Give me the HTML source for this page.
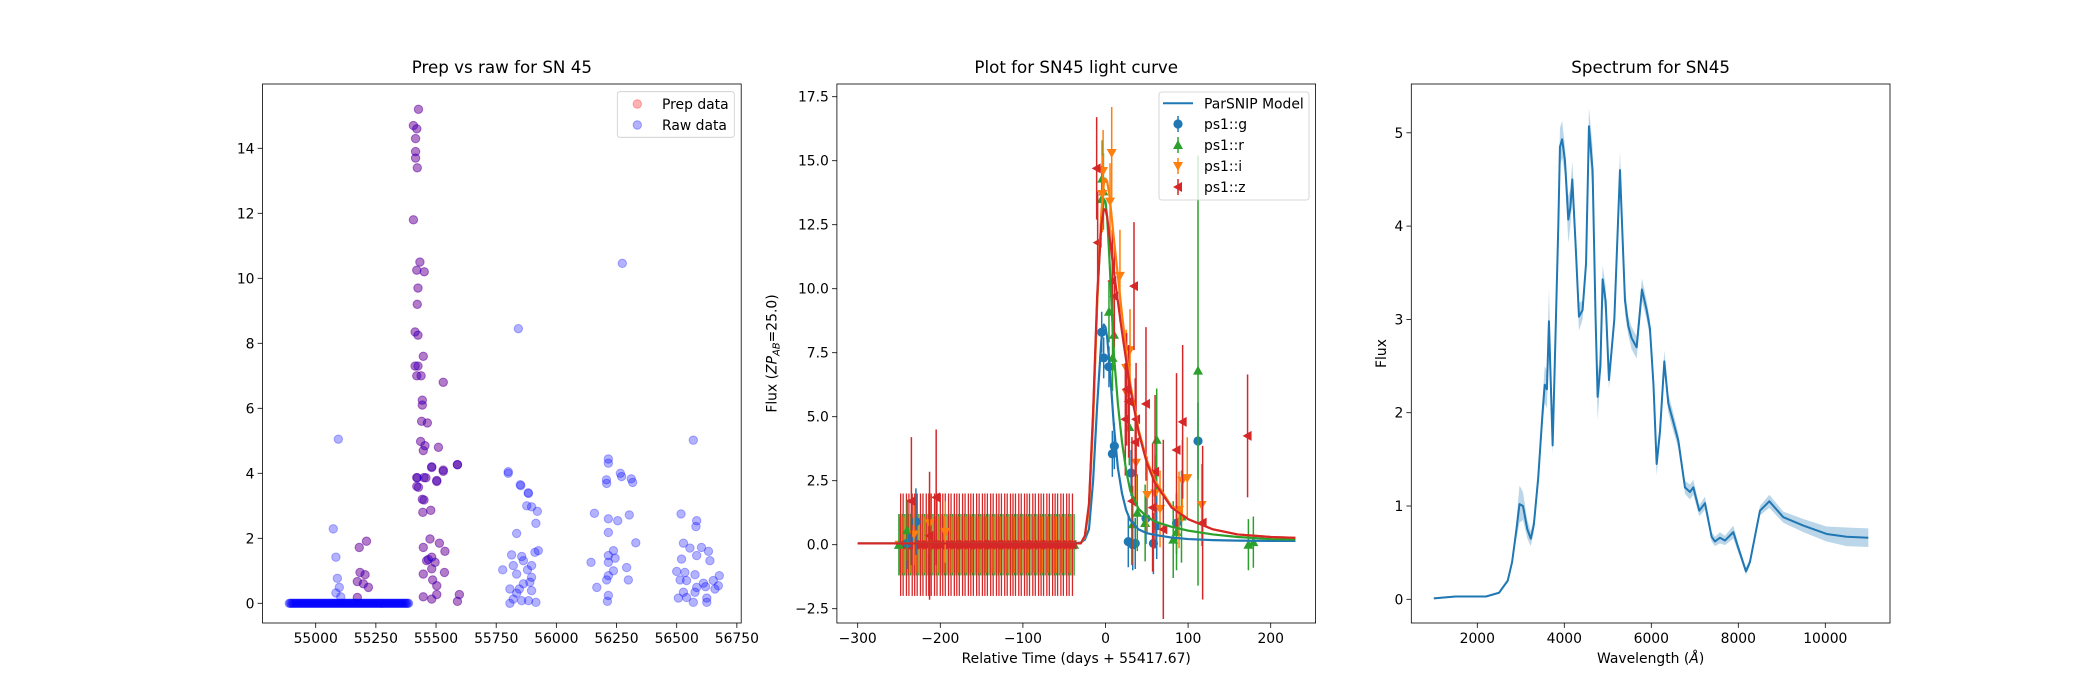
<!DOCTYPE html>
<html><head><meta charset="utf-8"><title>SN45</title>
<style>
html,body{margin:0;padding:0;background:#fff;}
svg{display:block;font-family:"DejaVu Sans","Liberation Sans",sans-serif;}
</style></head>
<body>
<svg id="fig" width="2100" height="700" viewBox="0 0 2100 700" xmlns="http://www.w3.org/2000/svg">
<rect x="0" y="0" width="2100" height="700" fill="#fff"/>
</svg>
<script>
// ---------- Panel 1 data ----------
const prepDates=[55427,55406,55420,55415,55415,55415,55422,55406,55433,55420,55451,55425,55422,55413,55425,55447,55413,55425,55420,55438,55530,55443,55443,55440,55464,55436,55454,55447,55510,55589,55482,55530,55420,55450,55503,55420,55443,
55181,55211,55184,55205,55173,55198,55219,55173,
55427,55450,55445,55478,55447,55475,55514,55537,55461,55496,55482,55447,55535,55486,55503,55503,55447,55482,55589,55597,55482,55468,55589,55530,55503,55482,55422,55458];
const prepFlux=[15.2,14.7,14.6,14.3,13.9,13.7,13.4,11.8,10.5,10.25,10.2,9.7,9.2,8.35,8.25,7.6,7.3,7.3,7.0,7.0,6.8,6.25,6.1,5.6,5.55,4.98,4.85,4.7,4.8,4.27,4.2,4.1,3.87,3.87,3.78,3.6,3.2,
1.72,1.91,0.95,0.88,0.67,0.6,0.49,0.18,
3.57,3.18,2.8,2.86,1.72,1.98,1.85,1.6,1.31,1.26,1.06,0.9,0.95,0.72,0.54,0.27,0.2,0.13,0.06,0.27,1.42,1.35,4.26,4.06,3.75,4.18,3.86,3.86];
const rawOnlyDates=[55094,55842,55800,55850,55883,56274,56569,56216,56208,56266,56311,
55073,55084,55090,55098,55084,55104,
55800,55852,55884,55877,55897,55921,55915,55835,55814,55856,55911,55925,55821,55863,55897,55777,55835,55880,55897,55863,55890,55807,55846,55897,55821,55856,55884,55915,55807,55835,
56216,56209,56271,56317,56158,56216,56255,56303,56216,56330,56216,56237,56244,56144,56216,56292,56237,56216,56299,56209,56168,56216,56212,
56518,56583,56580,56528,56555,56603,56632,56583,56638,56520,56500,56534,56576,56677,56514,56541,56611,56652,56583,56620,56673,56528,56507,56541,56576,56625,56569,56625,56659];
const rawOnlyFlux=[5.05,8.45,4.05,3.65,3.4,10.46,5.02,4.44,3.8,4.0,3.83,
2.29,1.42,0.77,0.49,0.32,0.2,
4.0,3.62,3.38,3.0,2.97,2.83,2.46,2.15,1.49,1.44,1.57,1.62,1.16,1.31,1.16,1.03,0.9,1.03,0.8,0.6,0.65,0.44,0.44,0.39,0.13,0.08,0.08,0.03,0.0,0.31,
4.31,3.69,3.9,3.72,2.77,2.6,2.54,2.72,2.18,1.86,1.47,1.62,1.39,1.26,1.26,1.1,1.0,0.85,0.72,0.72,0.49,0.24,0.06,
2.75,2.54,2.36,1.85,1.7,1.72,1.6,1.47,1.31,1.36,0.98,0.95,0.88,0.85,0.72,0.7,0.62,0.7,0.49,0.51,0.54,0.34,0.16,0.18,0.34,0.16,0.03,0.03,0.44];
const baseDates=[54890,54894,54898,54902,54906,54910,54914,54918,54922,54926,
54930,54934,54938,54942,54946,54950,54954,54958,54962,54966,
54970,54974,54978,54982,54986,54990,54994,54998,55002,55006,
55010,55014,55018,55022,55026,55030,55034,55038,55042,55046,
55050,55054,55058,55062,55066,55070,55074,55078,55082,55086,
55090,55094,55098,55102,55106,55110,55114,55118,55122,55126,
55130,55134,55138,55142,55146,55150,55154,55158,55162,55166,
55170,55174,55178,55182,55186,55190,55194,55198,55202,55206,
55210,55214,55218,55222,55226,55230,55234,55238,55242,55246,
55250,55254,55258,55262,55266,55270,55274,55278,55282,55286,
55290,55294,55298,55302,55306,55310,55314,55318,55322,55326,
55330,55334,55338,55342,55346,55350,55354,55358,55362,55366,
55370,55374,55378,55382,55386];
const baseFlux1=[0,0,0,0,0,0,0,0,0,0, 0,0,0,0,0,0,0,0,0,0, 0,0,0,0,0,0,0,0,0,0, 0,0,0,0,0,0,0,0,0,0,
0,0,0,0,0,0,0,0,0,0, 0,0,0,0,0,0,0,0,0,0, 0,0,0,0,0,0,0,0,0,0, 0,0,0,0,0,0,0,0,0,0,
0,0,0,0,0,0,0,0,0,0, 0,0,0,0,0,0,0,0,0,0, 0,0,0,0,0,0,0,0,0,0, 0,0,0,0,0,0,0,0,0,0, 0,0,0,0,0];
const ticks1X=[55000,55250,55500,55750,56000,56250,56500,56750];
const ticks1Y=[0,2,4,6,8,10,12,14];

// ---------- Panel 2 data ----------
const modelT=[-300,-40,-30,-25,-20,-15,-10,-5,-2,0,2,5,10,15,20,25,30,40,50,60,80,100,130,160,200,230];
const modelG=[0.05,0.05,0.08,0.2,0.6,2.5,5.5,8.0,8.6,8.5,8.1,7.0,4.7,3.0,2.0,1.35,0.95,0.6,0.45,0.38,0.28,0.22,0.18,0.16,0.15,0.15];
const modelR=[0.05,0.05,0.05,0.3,1.5,5.0,9.5,12.8,13.5,13.4,12.8,11.0,7.5,5.5,4.0,2.9,2.1,1.4,1.1,0.9,0.7,0.55,0.4,0.3,0.22,0.2];
const modelI=[0.05,0.05,0.05,0.3,1.4,4.8,9.5,13.0,14.1,14.3,14.2,13.6,12.0,10.5,9.0,7.6,6.3,4.5,3.3,2.5,1.5,1.0,0.6,0.4,0.3,0.27];
const modelZ=[0.05,0.05,0.05,0.35,1.6,5.2,9.8,12.5,13.1,13.1,12.8,12.0,10.7,9.5,8.3,7.2,6.1,4.4,3.2,2.4,1.45,1.0,0.6,0.4,0.3,0.27];
const baseTimesZ=[-248,-245,-241,-238,-234,-231,-228,-224,-221,-217,-214,-211,-207,-204,-200,-197,-194,-190,-187,-183,-180,-177,-173,-170,-166,-163,-160,-156,-153,-149,-146,-143,-139,-136,-132,-129,-126,-122,-119,-115,-112,-109,-105,-102,-98,-95,-92,-88,-85,-81,-78,-75,-71,-68,-64,-61,-58,-54,-51,-47,-44,-40];
const baseTimesR=[-250,-246,-243,-239,-236,-232,-229,-226,-222,-219,-215,-212,-209,-205,-202,-198,-195,-192,-188,-185,-181,-178,-175,-171,-168,-164,-161,-158,-154,-151,-147,-144,-141,-137,-134,-130,-127,-124,-120,-117,-113,-110,-107,-103,-100,-96,-93,-90,-86,-83,-79,-76,-73,-69,-66,-62,-59,-56,-52,-49,-45,-42,-38];
const baseTimesI=[-249.5,-246.5,-242.5,-239.5,-235.5,-232.5,-229.5,-225.5,-222.5,-218.5,-215.5,-212.5,-208.5,-205.5,-201.5,-198.5,-195.5,-191.5,-188.5,-184.5,-181.5,-178.5,-174.5,-171.5,-167.5,-164.5,-161.5,-157.5,-154.5,-150.5,-147.5,-144.5,-140.5,-137.5,-133.5,-130.5,-127.5,-123.5,-120.5,-116.5,-113.5,-110.5,-106.5,-103.5,-99.5,-96.5,-93.5,-89.5,-86.5,-82.5,-79.5,-76.5,-72.5,-69.5,-65.5,-62.5,-59.5,-55.5,-52.5,-48.5,-45.5,-41.5];
const baseFluxZ=[0,0,0,0,0,0,0,0,0,0,0,0,0,0,0,0,0,0,0,0,0,0,0,0,0,0,0,0,0,0,0,0,0,0,0,0,0,0,0,0,0,0,0,0,0,0,0,0,0,0,0,0,0,0,0,0,0,0,0,0,0,0];
const baseFluxR=[0,0,0,0,0,0,0,0,0,0,0,0,0,0,0,0,0,0,0,0,0,0,0,0,0,0,0,0,0,0,0,0,0,0,0,0,0,0,0,0,0,0,0,0,0,0,0,0,0,0,0,0,0,0,0,0,0,0,0,0,0,0,0];
const baseFluxI=[0,0,0,0,0,0,0,0,0,0,0,0,0,0,0,0,0,0,0,0,0,0,0,0,0,0,0,0,0,0,0,0,0,0,0,0,0,0,0,0,0,0,0,0,0,0,0,0,0,0,0,0,0,0,0,0,0,0,0,0,0,0];
const baseErrR=[1.2];
const baseErrI=[1.1];
const baseErrZ=[2.0];
const gT=[-229.5,-240,-235,-4.6,-2.2,4.2,8.3,10.7,31,27.6,33,36,49,58,62,86,112];
const gF=[0.9,0.05,0.3,8.3,7.3,6.95,3.55,3.85,2.8,0.12,0.0,0.05,1.03,0.05,0.74,0.84,4.05];
const gE=[1.3,1.0,1.0,0.8,0.8,0.8,0.9,0.9,0.9,1.0,1.0,1.0,1.0,1.2,1.3,1.2,1.5];
const rT=[-250,-240,-4,-2.5,-4.6,4.2,10.3,8.5,28.8,62,112,38.5,33,48,82,92,86,173,179];
const rF=[0,0.57,14.3,13.8,13.5,9.1,8.2,7.3,4.6,4.1,6.8,1.25,0.8,0.85,0.2,1.1,0.5,0.0,0.1];
const rE=[1.2,1.2,1.5,1.5,1.3,1.2,1.4,1.3,1.5,2.0,8.4,1.5,1.5,1.5,1.5,1.8,1.5,1.0,1.0];
const iT=[7.5,-2.9,-3.7,5.5,17.5,29.7,25,26,37,50.6,60,66,89,93,99,116.4,-213,-194,-232];
const iF=[15.3,14.6,13.7,13.4,10.5,7.6,6.9,5.9,3.2,1.94,2.0,1.4,1.36,2.5,2.6,1.55,0.84,0.5,0.4];
const iE=[1.8,1.6,1.5,1.5,1.8,1.6,1.5,1.5,1.5,1.5,1.5,1.5,1.5,1.6,1.6,1.6,1.2,1.2,1.2];
const zT=[-10.7,-9.5,8.2,34.5,10.7,25.6,28,49,24,37,93.4,86,172,36,60,70,57,117.6,32,-205,-235,-213];
const zF=[14.7,11.8,10.3,10.1,9.7,6.07,5.6,5.5,4.9,4.9,4.8,3.7,4.25,4.0,2.85,0.6,1.45,0.86,1.7,1.85,1.7,0.35];
const zE=[2.0,2.0,2.0,2.5,2.0,2.2,2.2,3.0,2.2,2.2,3.0,3.0,2.4,2.5,3.0,3.5,2.5,3.0,2.5,2.65,2.5,2.5];
const ticks2X=[-300,-200,-100,0,100,200];
const ticks2Y=[-2.5,0,2.5,5,7.5,10,12.5,15,17.5];

// ---------- Panel 3 data ----------
const specWl=[1000,1500,2000,2200,2500,2700,2800,2900,2970,3050,3150,3230,3300,3400,3500,3550,3600,3647,3732,3780,3862,3900,3950,4015,4092,4140,4184,4260,4337,4420,4500,4567,4650,4720,4766,4830,4881,4950,5027,5150,5280,5395,5471,5548,5663,5785,5893,5969,6050,6123,6200,6299,6391,6506,6621,6774,6889,6966,7103,7234,7387,7464,7579,7693,7885,8000,8176,8268,8498,8713,9034,9494,10031,10490,10989];
const specFlux=[0.01,0.03,0.03,0.03,0.07,0.2,0.4,0.75,1.02,1.0,0.75,0.65,0.8,1.3,2.0,2.3,2.25,2.98,1.65,2.5,4.0,4.85,4.93,4.7,4.07,4.2,4.5,3.8,3.03,3.1,3.6,5.07,4.6,3.0,2.17,2.5,3.43,3.2,2.35,3.0,4.6,3.2,2.93,2.8,2.7,3.32,3.1,2.9,2.3,1.45,1.8,2.55,2.1,1.9,1.7,1.2,1.15,1.2,0.95,1.03,0.67,0.62,0.66,0.63,0.72,0.55,0.3,0.4,0.95,1.05,0.88,0.79,0.7,0.67,0.66];
const specErr=[0.01,0.01,0.01,0.01,0.01,0.02,0.03,0.1,0.2,0.15,0.1,0.08,0.08,0.1,0.15,0.2,0.2,0.35,0.1,0.15,0.2,0.2,0.2,0.15,0.25,0.2,0.2,0.15,0.15,0.1,0.1,0.2,0.25,0.15,0.25,0.15,0.15,0.15,0.1,0.1,0.2,0.15,0.1,0.12,0.12,0.12,0.1,0.1,0.1,0.12,0.1,0.12,0.1,0.1,0.08,0.07,0.08,0.08,0.06,0.07,0.05,0.05,0.06,0.05,0.07,0.05,0.04,0.04,0.05,0.07,0.06,0.07,0.08,0.1,0.1];
const ticks3X=[2000,4000,6000,8000,10000];
const ticks3Y=[0,1,2,3,4,5];

// ---------- helpers ----------
const NS="http://www.w3.org/2000/svg";
const svg=document.getElementById('fig');
function mk(tag,attrs,parent){const e=document.createElementNS(NS,tag);for(const k in attrs)e.setAttribute(k,attrs[k]);(parent||svg).appendChild(e);return e;}
function lin(d0,d1,r0,r1){return v=>r0+(v-d0)*(r1-r0)/(d1-d0);}
const AX=[{l:262.5,r:741.2},{l:836.9,r:1315.6},{l:1411.3,r:1890}];
const TOP=84,BOT=623;
const MINUS='\u2212';
function fmt(v){return (v<0?MINUS:'')+String(Math.abs(v));}

function frame(ax,name,xs,ys,tx,ty,xlab,ylab,title,ylabX,yfmt){
  const g=mk('g',{});
  
  
  tx.forEach(v=>{const x=xs(v);
    const t=mk('line',{x1:x,x2:x,y1:BOT,y2:BOT+4.9,stroke:'#000','stroke-width':0.8},g);
    
    
    const l=mk('text',{x:x,y:BOT+20,'font-size':13.9,'text-anchor':'middle',fill:'#000'},g);
    
    
    l.textContent=fmt(v);});
  ty.forEach(v=>{const y=ys(v);
    const t=mk('line',{x1:ax.l-4.9,x2:ax.l,y1:y,y2:y,stroke:'#000','stroke-width':0.8},g);
    
    
    const l=mk('text',{x:ax.l-8,y:y+5,'font-size':13.9,'text-anchor':'end',fill:'#000'},g);
    
    
    l.textContent=yfmt?yfmt(v):fmt(v);});
  const ti=mk('text',{x:(ax.l+ax.r)/2,y:TOP-11,'font-size':16.7,'text-anchor':'middle',fill:'#000'},g);
  
  
  ti.textContent=title;
  if(xlab){const xl=mk('text',{x:(ax.l+ax.r)/2,y:BOT+40,'font-size':13.9,'text-anchor':'middle',fill:'#000'},g);
    
    
    xl.innerHTML=xlab;}
  if(ylab){const cy=(TOP+BOT)/2;
    const yl=mk('text',{x:ylabX,y:cy,'font-size':13.9,'text-anchor':'middle',fill:'#000',transform:`rotate(-90 ${ylabX} ${cy})`},g);
    
    
    yl.innerHTML=ylab;}
  return g;
}
function border(ax,name){const b=mk('rect',{x:ax.l,y:TOP,width:ax.r-ax.l,height:BOT-TOP,fill:'none',stroke:'#000','stroke-width':0.8});
  
  }
function clip(id,ax){const c=mk('clipPath',{id:id});mk('rect',{x:ax.l,y:TOP,width:ax.r-ax.l,height:BOT-TOP},c);}

// ---------- Panel 1 ----------
const x1=lin(55000,56500,315.7,676.7), y1=lin(0,14,603.3,148.3);
clip('c1',AX[0]);
frame(AX[0],'prep-vs-raw-axes',x1,y1,ticks1X,ticks1Y,null,null,'Prep vs raw for SN 45');
const g1=mk('g',{'clip-path':'url(#c1)'});


prepDates.forEach((d,i)=>{const c=mk('circle',{cx:x1(d),cy:y1(prepFlux[i]),r:4.2,fill:'rgba(255,0,0,0.3)',stroke:'rgba(255,0,0,0.3)','stroke-width':1},g1);
  
  });
const rawD=prepDates.concat(rawOnlyDates,baseDates), rawF=prepFlux.concat(rawOnlyFlux,baseFlux1);
rawD.forEach((d,i)=>{const c=mk('circle',{cx:x1(d),cy:y1(rawF[i]),r:4.2,fill:'rgba(0,0,255,0.3)',stroke:'rgba(0,0,255,0.3)','stroke-width':1},g1);
  
  });
border(AX[0],'prep-vs-raw-frame');
(function(){const lg=mk('g',{});
  
  
  mk('rect',{x:617.3,y:91.7,width:117,height:45.6,rx:2.5,fill:'rgba(255,255,255,0.8)',stroke:'#ccc','stroke-width':0.8},lg);
  [['Prep data','rgba(255,0,0,0.3)',104],['Raw data','rgba(0,0,255,0.3)',125]].forEach(e=>{
    const en=mk('g',{},lg);
    
    
    mk('circle',{cx:637.3,cy:e[2],r:4.2,fill:e[1],stroke:e[1],'stroke-width':1},en);
    const t=mk('text',{x:662,y:e[2]+5,'font-size':13.9,fill:'#000'},en);t.textContent=e[0];});
})();

// ---------- Panel 2 ----------
const x2=lin(-300,200,857.7,1270.7), y2=lin(0,17.5,544.7,96.7);
clip('c2',AX[1]);
frame(AX[1],'light-curve-axes',x2,y2,ticks2X,ticks2Y,'Relative Time (days + 55417.67)','Flux (<tspan font-style="italic">ZP</tspan><tspan font-size="10" dy="3" font-style="italic">AB</tspan><tspan dy="-3">=25.0)</tspan>',
 'Plot for SN45 light curve',776.7,v=>(v<0?MINUS:'')+Math.abs(v).toFixed(1));
const g2=mk('g',{'clip-path':'url(#c2)'});


function marker(shape,cx,cy,col,parent){
  const s=5;let e;
  if(shape==='o')e=mk('circle',{cx:cx,cy:cy,r:4.6,fill:col},parent);
  else{let p;
    if(shape==='^')p=[[cx,cy-s],[cx-s,cy+s*0.8],[cx+s,cy+s*0.8]];
    else if(shape==='v')p=[[cx,cy+s],[cx-s,cy-s*0.8],[cx+s,cy-s*0.8]];
    else p=[[cx-s,cy],[cx+s*0.8,cy-s],[cx+s*0.8,cy+s]];
    e=mk('polygon',{points:p.map(q=>q.join(',')).join(' '),fill:col},parent);}
  return e;}
function band(name,col,shape,T,F,E){
  const bg=mk('g',{},g2);
  
  
  T.forEach((t,i)=>{const x=x2(t);
    const l=mk('line',{x1:x,x2:x,y1:y2(F[i]-E[i]),y2:y2(F[i]+E[i]),stroke:col,'stroke-width':1.5},bg);
    
    
    const m=marker(shape,x,y2(F[i]),col,bg);
    
    });
}
function baseBand(name,col,shape,T,F,err){
  const bg=mk('g',{},g2);
  
  
  T.forEach((t,i)=>{const x=x2(t);
    const l=mk('line',{x1:x,x2:x,y1:y2(F[i]-err),y2:y2(F[i]+err),stroke:col,'stroke-width':1.3},bg);
    
    });
  T.forEach((t,i)=>{const m=marker(shape,x2(t),y2(F[i]),col,bg);
    
    });
}
function model(name,col,M){
  const p=mk('polyline',{points:modelT.map((t,i)=>x2(t)+','+y2(M[i])).join(' '),fill:'none',stroke:col,'stroke-width':2.2,'stroke-linejoin':'round'},g2);
  
  }
baseBand('baseline-r','#2ca02c','^',baseTimesR,baseFluxR,baseErrR[0]);
baseBand('baseline-i','#ff7f0e','v',baseTimesI,baseFluxI,baseErrI[0]);
baseBand('baseline-z','#d62728','<',baseTimesZ,baseFluxZ,baseErrZ[0]);
band('band-g-points','#1f77b4','o',gT,gF,gE);
band('band-r-points','#2ca02c','^',rT,rF,rE);
band('band-i-points','#ff7f0e','v',iT,iF,iE);
band('band-z-points','#d62728','<',zT,zF,zE);
model('model-line-g','#1f77b4',modelG);
model('model-line-r','#2ca02c',modelR);
model('model-line-i','#ff7f0e',modelI);
model('model-line-z','#d62728',modelZ);
border(AX[1],'light-curve-frame');
(function(){const lg=mk('g',{});
  
  
  mk('rect',{x:1159,y:92,width:150,height:108,rx:2.5,fill:'rgba(255,255,255,0.8)',stroke:'#ccc','stroke-width':0.8},lg);
  const e0=mk('g',{},lg);
  
  
  mk('line',{x1:1163,x2:1193,y1:103.3,y2:103.3,stroke:'#1f77b4','stroke-width':2},e0);
  const t0=mk('text',{x:1204,y:108.3,'font-size':13.9,fill:'#000'},e0);t0.textContent='ParSNIP Model';
  [['ps1::g','#1f77b4','o',124],['ps1::r','#2ca02c','^',145],['ps1::i','#ff7f0e','v',166],['ps1::z','#d62728','<',187]].forEach(e=>{
    const en=mk('g',{},lg);
    
    
    mk('line',{x1:1178,x2:1178,y1:e[3]-8,y2:e[3]+8,stroke:e[1],'stroke-width':1.5},en);
    marker(e[2],1178,e[3],e[1],en);
    const t=mk('text',{x:1204,y:e[3]+5,'font-size':13.9,fill:'#000'},en);t.textContent=e[0];});
})();

// ---------- Panel 3 ----------
const x3=lin(2000,10000,1477.3,1825.3), y3=lin(0,5,599.3,132.8);
clip('c3',AX[2]);
frame(AX[2],'spectrum-axes',x3,y3,ticks3X,ticks3Y,'Wavelength (<tspan font-style="italic">Å</tspan>)','Flux','Spectrum for SN45',1386);
const g3=mk('g',{'clip-path':'url(#c3)'});


const upper=specWl.map((w,i)=>x3(w)+','+y3(specFlux[i]+specErr[i]));
const lower=specWl.map((w,i)=>x3(w)+','+y3(specFlux[i]-specErr[i])).reverse();
const band3=mk('polygon',{points:upper.concat(lower).join(' '),fill:'rgba(31,119,180,0.3)',stroke:'none'},g3);


const sp=mk('polyline',{points:specWl.map((w,i)=>x3(w)+','+y3(specFlux[i])).join(' '),fill:'none',stroke:'#1f77b4','stroke-width':2,'stroke-linejoin':'round'},g3);


border(AX[2],'spectrum-frame');
</script>
</body></html>
